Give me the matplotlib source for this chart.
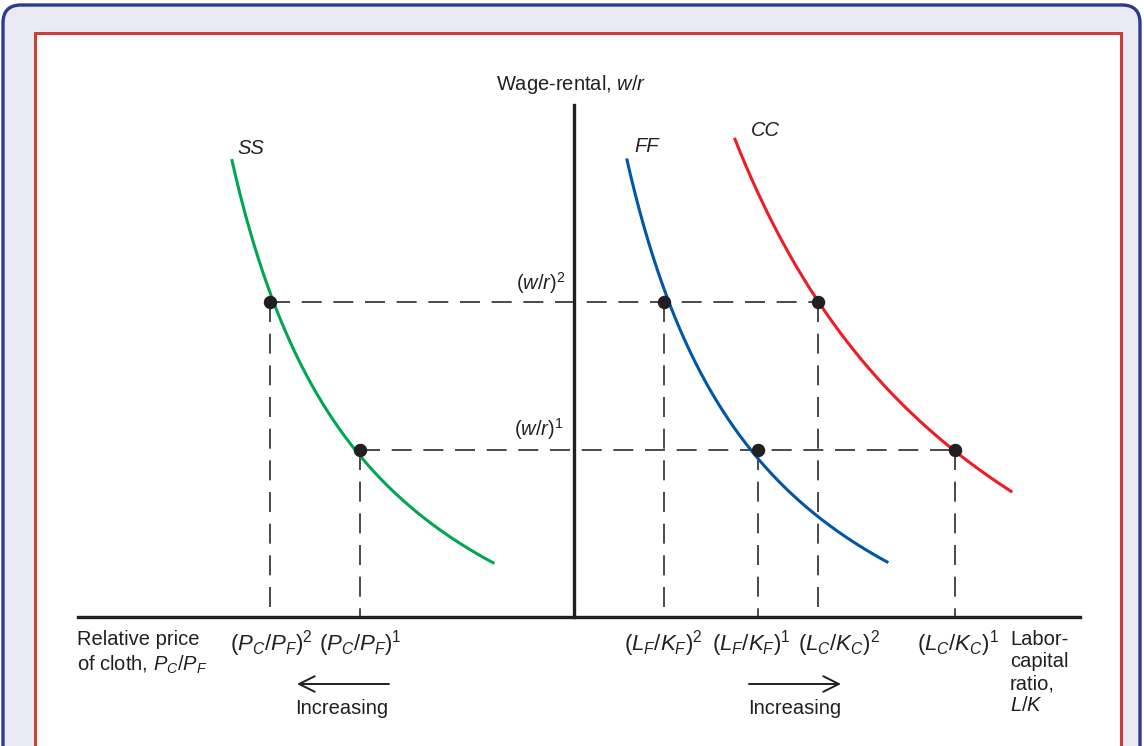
import numpy as np
import matplotlib
matplotlib.use("Agg")
import matplotlib.pyplot as plt
from matplotlib.patches import FancyBboxPatch, Rectangle

plt.rcParams['font.family'] = ['Liberation Sans', 'DejaVu Sans']
plt.rcParams['mathtext.fontset'] = 'custom'
plt.rcParams['mathtext.rm'] = 'Liberation Sans'
plt.rcParams['mathtext.it'] = 'Liberation Sans:italic'
plt.rcParams['mathtext.bf'] = 'Liberation Sans:bold'

# ---- data (diagram coordinates; y grows downward) ----
origin_x = 574
axis_y = 617
wr_levels = [302, 450]            # (w/r)^2, (w/r)^1
ss_x = [232, 270, 360, 493]       # SS curve: start, dot2, dot1, end
ss_y = [156, 302, 450, 564]
ff_x = [627, 664, 758, 887]
ff_y = [154, 302, 450, 564]
cc_x = [735, 818, 955, 1011]
cc_y = [139, 302, 450, 492]
curve_colors = {'SS': '#00A651', 'FF': '#0057A8', 'CC': '#EE1C25'}

pc_labels = [r'$(P_C/P_F)^2$', r'$(P_C/P_F)^1$']
lk_labels = [r'$(L_F/K_F)^2$', r'$(L_F/K_F)^1$', r'$(L_C/K_C)^2$', r'$(L_C/K_C)^1$']

W, H = 1144, 746
fig = plt.figure(figsize=(W / 100, H / 100), dpi=100)
ax = fig.add_axes([0, 0, 1, 1])
ax.set_xlim(0, W)
ax.set_ylim(H, 0)
ax.axis('off')

# frames
outer = FancyBboxPatch((3, 5), 1137, 820, boxstyle='round,pad=0,rounding_size=18',
                       facecolor='#E9EAF3', edgecolor='#2E3A8C', lw=2.4, zorder=0)
ax.add_patch(outer)
inner = Rectangle((35, 33), 1086, 800, facecolor='white', edgecolor='#C9403A', lw=2.2, zorder=0.5)
ax.add_patch(inner)


def fit_curve(xs, ys):
    xs = np.asarray(xs, float)
    ys = np.asarray(ys, float)
    # (y - c)(x - x0) = k  ->  x*y = x0*y + c*x + m
    A = np.column_stack([ys, xs, np.ones_like(xs)])
    b = xs * ys
    (x0, c, m), *_ = np.linalg.lstsq(A, b, rcond=None)
    k = m + c * x0
    xx = np.linspace(xs[0], xs[-1], 300)
    return xx, c + k / (xx - x0)


fs = 14.5
fsm = 16
for name, xs, ys in [('SS', ss_x, ss_y), ('FF', ff_x, ff_y), ('CC', cc_x, cc_y)]:
    xx, yy = fit_curve(xs, ys)
    ax.plot(xx, yy, color=curve_colors[name], lw=2.2, zorder=3)

# dashed guides
dash = dict(color='#2a2a2a', lw=1.2, dashes=(12, 7), zorder=2)
ax.plot([ss_x[1], cc_x[1]], [wr_levels[0]] * 2, **dash)
ax.plot([ss_x[2], cc_x[2]], [wr_levels[1]] * 2, **dash)
for xv, yv in [(ss_x[1], ss_y[1]), (ss_x[2], ss_y[2]), (ff_x[1], ff_y[1]),
               (ff_x[2], ff_y[2]), (cc_x[1], cc_y[1]), (cc_x[2], cc_y[2])]:
    ax.plot([xv, xv], [yv, axis_y], **dash)

# dots
dots_x = [ss_x[1], ss_x[2], ff_x[1], ff_x[2], cc_x[1], cc_x[2]]
dots_y = [ss_y[1], ss_y[2], ff_y[1], ff_y[2], cc_y[1], cc_y[2]]
ax.scatter(dots_x, dots_y, s=75, color='#231F20', zorder=5)

# axes
ax.plot([origin_x, origin_x], [105, axis_y], color='#231F20', lw=2.4, zorder=4)
ax.plot([78, 1080], [axis_y, axis_y], color='#231F20', lw=2.4, zorder=4)

tc = '#231F20'
ax.text(571, 85, r'Wage-rental, $w/r$', ha='center', va='center', fontsize=fs, color=tc)
ax.text(251, 149, 'SS', ha='center', va='center', fontsize=fs, style='italic', color=tc)
ax.text(647, 147, 'FF', ha='center', va='center', fontsize=fs, style='italic', color=tc)
ax.text(765, 131, 'CC', ha='center', va='center', fontsize=fs, style='italic', color=tc)
ax.text(566, 296, r'$(w/r)^2$', ha='right', va='bottom', fontsize=fs, color=tc)
ax.text(564, 442, r'$(w/r)^1$', ha='right', va='bottom', fontsize=fs, color=tc)

ytop = 628
ax.text(271, ytop, pc_labels[0], ha='center', va='top', fontsize=fsm, color=tc)
ax.text(360, ytop, pc_labels[1], ha='center', va='top', fontsize=fsm, color=tc)
lk_x = [663, 751, 839, 958]
for lx, lab in zip(lk_x, lk_labels):
    ax.text(lx, ytop, lab, ha='center', va='top', fontsize=fsm, color=tc)

ax.text(77, ytop + 2, 'Relative price\nof cloth, $P_C/P_F$', ha='left', va='top',
        fontsize=fs, color=tc, linespacing=1.25)
ax.text(1010, ytop + 2, 'Labor-\ncapital\nratio,\n$L/K$', ha='left', va='top',
        fontsize=fs, color=tc, linespacing=1.2)

arrow = dict(arrowstyle='->', lw=1.4, color=tc, mutation_scale=28, shrinkA=0, shrinkB=0)
ax.annotate('', xy=(297, 684), xytext=(389, 684), arrowprops=arrow)
ax.annotate('', xy=(841, 684), xytext=(749, 684), arrowprops=arrow)
ax.text(342, 709, 'Increasing', ha='center', va='center', fontsize=fs, color=tc)
ax.text(795, 709, 'Increasing', ha='center', va='center', fontsize=fs, color=tc)

fig.savefig('out.png', dpi=100)
